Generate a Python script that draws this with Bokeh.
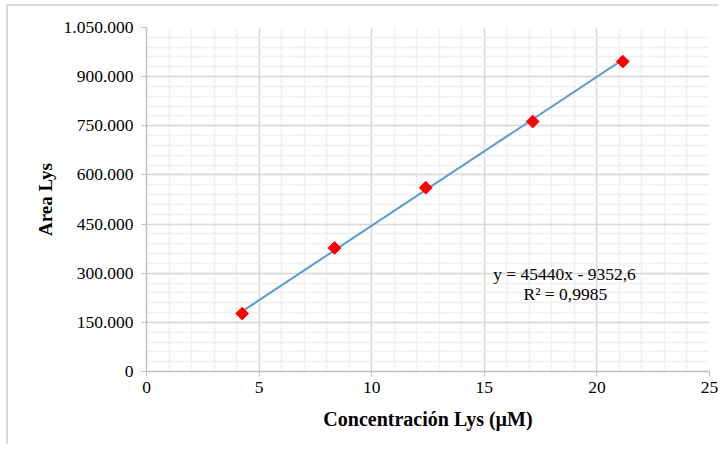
import math
from bokeh.plotting import figure
from bokeh.models import FixedTicker, ColumnDataSource
from bokeh.core.properties import value
from bokeh.embed import file_html
from bokeh.resources import INLINE

# Data
conc = [4.25, 8.35, 12.4, 17.15, 21.15]
area = [177000, 377000, 561000, 763000, 946000]

slope = 45440
intercept = -9352.6
eq_text = "y = 45440x - 9352,6"
r2_text = "R² = 0,9985"

x_ticks = [0, 5, 10, 15, 20, 25]
x_minor = list(range(0, 26))
y_ticks = [0, 150000, 300000, 450000, 600000, 750000, 900000, 1050000]
y_labels = ["0", "150.000", "300.000", "450.000", "600.000", "750.000", "900.000", "1.050.000"]
y_minor = list(range(0, 1050001, 30000))

FONT = "Liberation Serif"

p = figure(width=712, height=440, output_backend="svg", toolbar_location=None,
           x_range=(0, 25), y_range=(0, 1050000),
           min_border_left=138, min_border_right=11, min_border_top=21, min_border_bottom=75)
p.styles = {"margin-left": "6px", "margin-top": "4px",
            "border-top": "2px solid #d9d9d9", "border-left": "2px solid #d9d9d9"}
p.outline_line_color = None
p.background_fill_color = "white"

p.xaxis.ticker = FixedTicker(ticks=x_ticks, minor_ticks=x_minor)
p.yaxis.ticker = FixedTicker(ticks=y_ticks, minor_ticks=y_minor)
p.yaxis.major_label_overrides = {t: l for t, l in zip(y_ticks, y_labels)}
p.xaxis.major_label_overrides = {t: str(t) for t in x_ticks}

for ax in (p.xaxis, p.yaxis):
    ax.axis_line_color = "#bfbfbf"
    ax.axis_line_width = 1.5
    ax.major_tick_line_color = "#bfbfbf"
    ax.major_tick_in = 0
    ax.major_tick_out = 5
    ax.minor_tick_in = 0
    ax.minor_tick_out = 0
    ax.major_label_text_font = FONT
    ax.major_label_text_font_size = "17.5px"
    ax.major_label_text_color = "black"
    ax.axis_label_text_font = FONT
    ax.axis_label_text_font_style = "bold"
    ax.axis_label_text_color = "black"

p.xaxis.axis_label = "Concentración Lys (µM)"
p.yaxis.axis_label = "Area Lys"
p.xaxis.axis_label_text_font_size = "20px"
p.yaxis.axis_label_text_font_size = "19px"
p.xaxis.major_label_standoff = 5
p.yaxis.major_label_standoff = 8
p.xaxis.axis_label_standoff = 12
p.yaxis.axis_label_standoff = 5

for g in (p.xgrid, p.ygrid):
    g.grid_line_color = "#d9d9d9"
    g.grid_line_width = 1.5
    g.minor_grid_line_color = "#f0f0f0"
    g.minor_grid_line_width = 1.5

# Trendline over the data range
x0, x1 = min(conc), max(conc)
p.line([x0, x1], [slope * x0 + intercept, slope * x1 + intercept],
       line_color="#5B9BD5", line_width=2)

src = ColumnDataSource(dict(x=conc, y=area))
p.scatter("x", "y", source=src, marker="square", size=9, angle=math.pi / 4,
          fill_color="#FF0000", line_color="#FF0000")

p.text(x=[18.56, 18.6], y=[299000, 236000], text=[eq_text, r2_text],
       text_font=value(FONT), text_font_size="17.5px", text_color="black",
       text_align="center", text_baseline="middle")

open("out.html", "w").write(file_html(p, INLINE))
